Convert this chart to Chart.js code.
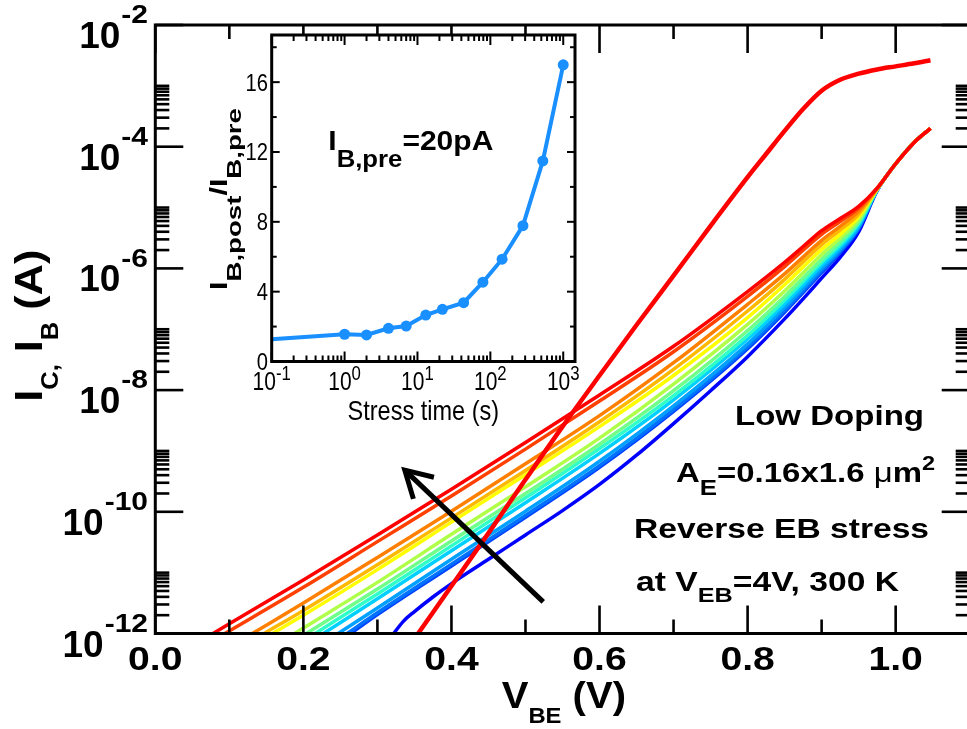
<!DOCTYPE html>
<html>
<head>
<meta charset="utf-8">
<script src="https://cdn.jsdelivr.net/npm/chart.js@4.4.0/dist/chart.umd.min.js"></script>
<style>
html, body { margin: 0; padding: 0; background: #fff; overflow: hidden; width: 967px; height: 729px; }
#main { position: absolute; left: 0; top: 0; }
#inset { position: absolute; left: 150px; top: 0; }
</style>
</head>
<body>
<canvas id="main" width="980" height="729"></canvas>
<canvas id="inset" width="450" height="440"></canvas>
<script>
// IB curves, one per stress time: [VBE (V), log10 IB (A)]
var ibPre   = [[0.322,-12],[0.335,-11.8],[0.35,-11.64],[0.375,-11.40],[0.4,-11.18],[0.45,-10.78],[0.5,-10.38],[0.55,-9.98],[0.6,-9.55],[0.65,-9.07],[0.7,-8.55],[0.75,-8.01],[0.8,-7.45],[0.85,-6.83],[0.875,-6.50],[0.9,-6.16],[0.925,-5.82],[0.95,-5.40],[0.975,-4.72],[1.0,-4.28],[1.025,-3.93],[1.047,-3.70]];
var ib1s    = [[0.264,-12],[0.3,-11.69],[0.4,-10.89],[0.5,-10.09],[0.6,-9.27],[0.7,-8.35],[0.8,-7.32],[0.85,-6.72],[0.9,-6.07],[0.925,-5.74],[0.95,-5.35],[0.975,-4.72],[1.0,-4.28],[1.025,-3.93],[1.047,-3.70]];
var ib2s    = [[0.259,-12],[0.3,-11.66],[0.4,-10.86],[0.5,-10.06],[0.6,-9.24],[0.7,-8.32],[0.8,-7.29],[0.85,-6.69],[0.9,-6.04],[0.925,-5.72],[0.95,-5.34],[0.975,-4.71],[1.0,-4.28],[1.025,-3.93],[1.047,-3.70]];
var ib4s    = [[0.247,-12],[0.3,-11.58],[0.4,-10.78],[0.5,-9.99],[0.6,-9.17],[0.7,-8.26],[0.8,-7.24],[0.85,-6.64],[0.9,-6.00],[0.925,-5.69],[0.95,-5.32],[0.975,-4.71],[1.0,-4.28],[1.025,-3.93],[1.047,-3.70]];
var ib7s    = [[0.227,-12],[0.3,-11.43],[0.4,-10.64],[0.5,-9.85],[0.6,-9.04],[0.7,-8.16],[0.8,-7.16],[0.85,-6.58],[0.9,-5.95],[0.925,-5.65],[0.95,-5.29],[0.975,-4.71],[1.0,-4.28],[1.025,-3.93],[1.047,-3.70]];
var ib13s   = [[0.216,-12],[0.3,-11.35],[0.4,-10.56],[0.5,-9.77],[0.6,-8.96],[0.7,-8.09],[0.8,-7.10],[0.85,-6.52],[0.9,-5.90],[0.925,-5.61],[0.95,-5.26],[0.975,-4.71],[1.0,-4.28],[1.025,-3.93],[1.047,-3.70]];
var ib22s   = [[0.204,-12],[0.3,-11.27],[0.4,-10.48],[0.5,-9.70],[0.6,-8.89],[0.7,-8.01],[0.8,-7.02],[0.85,-6.46],[0.9,-5.85],[0.925,-5.56],[0.95,-5.23],[0.975,-4.70],[1.0,-4.28],[1.025,-3.93],[1.047,-3.70]];
var ib43s   = [[0.188,-12],[0.2,-11.91],[0.3,-11.16],[0.4,-10.37],[0.5,-9.59],[0.6,-8.79],[0.7,-7.90],[0.8,-6.92],[0.85,-6.37],[0.9,-5.77],[0.925,-5.50],[0.95,-5.19],[0.975,-4.70],[1.0,-4.28],[1.025,-3.93],[1.047,-3.70]];
var ib79s   = [[0.158,-12],[0.2,-11.70],[0.3,-10.95],[0.4,-10.17],[0.5,-9.39],[0.6,-8.60],[0.7,-7.76],[0.8,-6.81],[0.85,-6.27],[0.9,-5.69],[0.925,-5.44],[0.95,-5.15],[0.975,-4.70],[1.0,-4.28],[1.025,-3.93],[1.047,-3.70]];
var ib145s  = [[0.147,-12],[0.2,-11.62],[0.3,-10.87],[0.4,-10.10],[0.5,-9.32],[0.6,-8.52],[0.7,-7.66],[0.8,-6.70],[0.85,-6.18],[0.9,-5.61],[0.925,-5.37],[0.95,-5.11],[0.975,-4.69],[1.0,-4.28],[1.025,-3.93],[1.047,-3.70]];
var ib280s  = [[0.131,-12],[0.2,-11.50],[0.3,-10.75],[0.4,-9.99],[0.5,-9.21],[0.6,-8.42],[0.7,-7.55],[0.8,-6.59],[0.85,-6.09],[0.9,-5.54],[0.925,-5.31],[0.95,-5.06],[0.975,-4.69],[1.0,-4.28],[1.025,-3.93],[1.047,-3.70]];
var ib525s  = [[0.094,-12],[0.2,-11.24],[0.3,-10.49],[0.4,-9.74],[0.5,-8.97],[0.6,-8.18],[0.7,-7.37],[0.8,-6.46],[0.85,-5.97],[0.9,-5.44],[0.925,-5.23],[0.95,-5.01],[0.975,-4.68],[1.0,-4.28],[1.025,-3.93],[1.047,-3.70]];
var ib1000s = [[0.078,-12],[0.1,-11.84],[0.2,-11.12],[0.3,-10.38],[0.4,-9.63],[0.5,-8.86],[0.6,-8.08],[0.7,-7.28],[0.8,-6.38],[0.85,-5.90],[0.875,-5.64],[0.9,-5.38],[0.925,-5.18],[0.95,-4.98],[0.975,-4.68],[1.0,-4.28],[1.025,-3.93],[1.047,-3.70]];

// IC (all stress times lie on top of each other)
var icCurve = [[0.355,-12],[0.4,-11.22],[0.45,-10.35],[0.5,-9.47],[0.55,-8.6],[0.6,-7.76],[0.65,-6.93],[0.7,-6.12],[0.75,-5.3],[0.8,-4.5],[0.825,-4.12],[0.85,-3.74],[0.875,-3.38],[0.9,-3.08],[0.925,-2.9],[0.95,-2.8],[0.975,-2.73],[1.0,-2.68],[1.025,-2.63],[1.047,-2.58]];

var ibCurves = [ibPre, ib1s, ib2s, ib4s, ib7s, ib13s, ib22s, ib43s, ib79s, ib145s, ib280s, ib525s, ib1000s];
var curveColors = ['#0000ff','#0040ff','#0070ff','#00a0ff','#00d0ff','#30ffc8','#70ff88','#b0ff48','#ffff00','#ffb800','#ff8000','#ff4000','#ff0000'];

// inset: IB,post / IB,pre at IB,pre = 20 pA
var stressTime = [0.1, 1, 2, 4, 7, 13, 22, 43, 79, 145, 280, 525, 1000];
var ibRatio    = [1.27, 1.56, 1.52, 1.90, 2.03, 2.66, 2.99, 3.37, 4.54, 5.86, 7.78, 11.49, 16.99];

// tick labels
var vTickLabels = ['0.0', '0.2', '0.4', '0.6', '0.8', '1.0'];
var iTickExps = [-12, -10, -8, -6, -4, -2];
var tTickExps = [-1, 0, 1, 2, 3];
var ratioTicks = [0, 4, 8, 12, 16];

// arrow (VBE, log10 I): tail -> head
var arrowTail = [0.524, -11.48];
var arrowHead = [0.337, -9.315];

function B(n) { return 'bold ' + n + 'px "Liberation Sans", Arial, sans-serif'; }
function R(n) { return n + 'px "Liberation Sans", Arial, sans-serif'; }

function richWidth(ctx, parts) {
  var w = 0;
  parts.forEach(function (p) { ctx.font = p.f; w += ctx.measureText(p.t).width; });
  return w;
}
function drawRich(ctx, parts, x, y, align, sx) {
  sx = sx || 1;
  var w = richWidth(ctx, parts) * sx;
  var cx = align === 'right' ? x - w : align === 'center' ? x - w / 2 : x;
  ctx.save();
  ctx.textAlign = 'left';
  ctx.textBaseline = 'alphabetic';
  ctx.translate(cx, y);
  ctx.scale(sx, 1);
  var px = 0;
  parts.forEach(function (p) {
    ctx.font = p.f;
    ctx.fillText(p.t, px, p.dy || 0);
    px += ctx.measureText(p.t).width;
  });
  ctx.restore();
  return w;
}
function fitRich(ctx, parts, left, right, y) {
  var w = richWidth(ctx, parts);
  drawRich(ctx, parts, left, y, 'left', (right - left) / w);
}
function tick(ctx, x1, y1, x2, y2) {
  ctx.beginPath(); ctx.moveTo(x1, y1); ctx.lineTo(x2, y2); ctx.stroke();
}

var mainDecor = {
  id: 'mainDecor',
  afterDraw: function (chart) {
    var ctx = chart.ctx, a = chart.chartArea, xs = chart.scales.x, ys = chart.scales.y;
    ctx.save();
    ctx.fillStyle = '#000';
    ctx.strokeStyle = '#000';
    ctx.lineWidth = 3;
    ctx.strokeRect(a.left, a.top, a.right - a.left, a.bottom - a.top);

    // x ticks (bottom + top, pointing in)
    ctx.lineWidth = 2.6;
    for (var k = 0; k <= 11; k++) {
      var px = xs.getPixelForValue(k / 10);
      var len = k % 2 === 0 ? 28 : 14;
      tick(ctx, px, a.bottom, px, a.bottom - len);
      tick(ctx, px, a.top, px, a.top + len);
    }
    // y ticks (left + right)
    iTickExps.forEach(function (e) {
      var py = ys.getPixelForValue(Math.pow(10, e));
      tick(ctx, a.left, py, a.left + 28, py);
      tick(ctx, a.right, py, a.right - 28, py);
      if (e < -2) {
        for (var m = 2; m <= 10; m++) {
          var pm = ys.getPixelForValue(m * Math.pow(10, e));
          tick(ctx, a.left, pm, a.left + 14, pm);
          tick(ctx, a.right, pm, a.right - 14, pm);
        }
      }
    });

    // x tick labels
    vTickLabels.forEach(function (s, i) {
      var px = xs.getPixelForValue(i * 0.2);
      drawRich(ctx, [{ t: s, f: B(34) }], px, 670, 'center', 1.15);
    });
    // y tick labels 10^e
    iTickExps.forEach(function (e) {
      var py = ys.getPixelForValue(Math.pow(10, e));
      var w = drawRich(ctx, [{ t: '-' + Math.abs(e), f: B(25) }], 148, py - 1.7, 'right', 1.2);
      drawRich(ctx, [{ t: '10', f: B(37) }], 148 - w - 1, py + 23, 'right', 1);
    });

    // axis titles
    fitRich(ctx, [{ t: 'V', f: B(37) }, { t: 'BE', f: B(22), dy: 14.4 }, { t: ' (V)', f: B(37) }], 501.7, 626, 708.3);
    ctx.save();
    ctx.translate(41.7, 401.7);
    ctx.rotate(-Math.PI / 2);
    fitRich(ctx, [{ t: 'I', f: B(39) }, { t: 'C', f: B(23), dy: 16 }, { t: ',', f: B(23), dy: 16 }, { t: ' I', f: B(39) }, { t: 'B', f: B(23), dy: 16 }, { t: ' (A)', f: B(39) }], 0, 152, 0);
    ctx.restore();

    // annotations
    fitRich(ctx, [{ t: 'Low Doping', f: B(28) }], 735, 924, 425);
    fitRich(ctx, [{ t: 'A', f: B(28) }, { t: 'E', f: B(22), dy: 13 }, { t: '=0.16x1.6 ', f: B(28) }, { t: '\u03bc', f: R(28) }, { t: 'm', f: B(28) }, { t: '2', f: B(20), dy: -12 }], 676, 935, 481.7);
    fitRich(ctx, [{ t: 'Reverse EB stress', f: B(28) }], 634, 929, 538.3);
    fitRich(ctx, [{ t: 'at V', f: B(28) }, { t: 'EB', f: B(21), dy: 11 }, { t: '=4V, 300 K', f: B(28) }], 636, 899, 590.7);

    // arrow
    var x1 = xs.getPixelForValue(arrowTail[0]), y1 = ys.getPixelForValue(Math.pow(10, arrowTail[1]));
    var x2 = xs.getPixelForValue(arrowHead[0]), y2 = ys.getPixelForValue(Math.pow(10, arrowHead[1]));
    var ang = Math.atan2(y1 - y2, x1 - x2);
    ctx.lineWidth = 5;
    ctx.lineCap = 'butt';
    tick(ctx, x1, y1, x2, y2);
    ctx.beginPath();
    ctx.moveTo(x2 + 30 * Math.cos(ang - 0.52), y2 + 30 * Math.sin(ang - 0.52));
    ctx.lineTo(x2, y2);
    ctx.lineTo(x2 + 30 * Math.cos(ang + 0.52), y2 + 30 * Math.sin(ang + 0.52));
    ctx.stroke();
    ctx.restore();
  }
};

function toPts(arr) {
  return arr.map(function (p) { return { x: p[0], y: Math.pow(10, p[1]) }; });
}

var datasets = [{
  label: 'IC',
  data: toPts(icCurve),
  borderColor: '#ff0000',
  borderWidth: 4.5
}];
for (var i = ibCurves.length - 1; i >= 0; i--) {
  datasets.push({ label: 'IB ' + stressTime[i], data: toPts(ibCurves[i]), borderColor: curveColors[i], borderWidth: 3.5 });
}
datasets.forEach(function (d) {
  d.pointRadius = 0;
  d.fill = false;
  d.cubicInterpolationMode = 'monotone';
});

new Chart(document.getElementById('main').getContext('2d'), {
  type: 'line',
  data: { datasets: datasets },
  options: {
    responsive: false,
    animation: false,
    devicePixelRatio: 1,
    layout: { padding: { top: 25, right: 10.3, left: 0, bottom: 0 } },
    plugins: { legend: { display: false }, tooltip: { enabled: false } },
    scales: {
      x: {
        type: 'linear', min: 0, max: 1.1,
        ticks: { display: false }, grid: { display: false }, border: { display: false },
        afterFit: function (s) { s.height = 95.5; }
      },
      y: {
        type: 'logarithmic', min: 1e-12, max: 1e-2,
        ticks: { display: false }, grid: { display: false }, border: { display: false },
        afterFit: function (s) { s.width = 155.3; }
      }
    }
  },
  plugins: [mainDecor]
});

// ---- inset ----
var NARROW = 0.84;
var insetDecor = {
  id: 'insetDecor',
  beforeDraw: function (chart) {
    var ctx = chart.ctx, a = chart.chartArea;
    ctx.save();
    ctx.fillStyle = '#fff';
    ctx.fillRect(a.left, a.top, a.right - a.left, a.bottom - a.top);
    ctx.restore();
  },
  afterDraw: function (chart) {
    var ctx = chart.ctx, a = chart.chartArea, xs = chart.scales.x, ys = chart.scales.y;
    ctx.save();
    ctx.fillStyle = '#000';
    ctx.strokeStyle = '#000';
    ctx.lineWidth = 3;
    ctx.strokeRect(a.left, a.top, a.right - a.left, a.bottom - a.top);
    ctx.lineWidth = 2;
    tTickExps.forEach(function (e) {
      var px = xs.getPixelForValue(Math.pow(10, e));
      tick(ctx, px, a.bottom, px, a.bottom - 10);
      tick(ctx, px, a.top, px, a.top + 10);
      if (e < 3) {
        for (var m = 2; m <= 9; m++) {
          var pm = xs.getPixelForValue(m * Math.pow(10, e));
          tick(ctx, pm, a.bottom, pm, a.bottom - 6);
          tick(ctx, pm, a.top, pm, a.top + 6);
        }
      }
    });
    for (var v = 0; v <= 18; v += 2) {
      var py = ys.getPixelForValue(v);
      var len = v % 4 === 0 ? 8 : 5;
      tick(ctx, a.left, py, a.left + len, py);
      tick(ctx, a.right, py, a.right - len, py);
    }
    ratioTicks.forEach(function (v) {
      var py = ys.getPixelForValue(v);
      drawRich(ctx, [{ t: String(v), f: R(24) }], 118, py + 8.5, 'right', NARROW);
    });
    tTickExps.forEach(function (e) {
      var px = xs.getPixelForValue(Math.pow(10, e));
      drawRich(ctx, [{ t: '10', f: R(25) }, { t: String(e), f: R(20), dy: -10 }], px, 390, 'center', NARROW);
    });
    drawRich(ctx, [{ t: 'Stress time (s)', f: R(28) }], (a.left + a.right) / 2, 420, 'center', NARROW);
    ctx.save();
    ctx.translate(76.7, 290);
    ctx.rotate(-Math.PI / 2);
    fitRich(ctx, [{ t: 'I', f: B(23) }, { t: 'B,post', f: B(21), dy: 14 }, { t: '/', f: B(23) }, { t: 'I', f: B(23) }, { t: 'B,pre', f: B(21), dy: 14 }], 0, 182, 0);
    ctx.restore();
    fitRich(ctx, [{ t: 'I', f: B(28) }, { t: 'B,pre', f: B(24), dy: 16.7 }, { t: '=20pA', f: B(28) }], 178.3, 343.3, 150);
    ctx.restore();
  }
};

new Chart(document.getElementById('inset').getContext('2d'), {
  type: 'line',
  data: {
    datasets: [{
      data: stressTime.map(function (t, i) { return { x: t, y: ibRatio[i] }; }),
      borderColor: '#1a8fff',
      backgroundColor: '#1a8fff',
      borderWidth: 4,
      pointRadius: stressTime.map(function (t, i) { return i === 0 ? 0 : 5.5; }),
      pointBorderWidth: 0,
      fill: false,
      tension: 0
    }]
  },
  options: {
    responsive: false,
    animation: false,
    devicePixelRatio: 1,
    layout: { padding: { top: 35, right: 25, left: 0, bottom: 0 } },
    plugins: { legend: { display: false }, tooltip: { enabled: false } },
    scales: {
      x: {
        type: 'logarithmic', min: 0.1, max: 1450,
        ticks: { display: false }, grid: { display: false }, border: { display: false },
        afterFit: function (s) { s.height = 78.5; }
      },
      y: {
        type: 'linear', min: 0, max: 18.7,
        ticks: { display: false }, grid: { display: false }, border: { display: false },
        afterFit: function (s) { s.width = 121.7; }
      }
    }
  },
  plugins: [insetDecor]
});
</script>
</body>
</html>
